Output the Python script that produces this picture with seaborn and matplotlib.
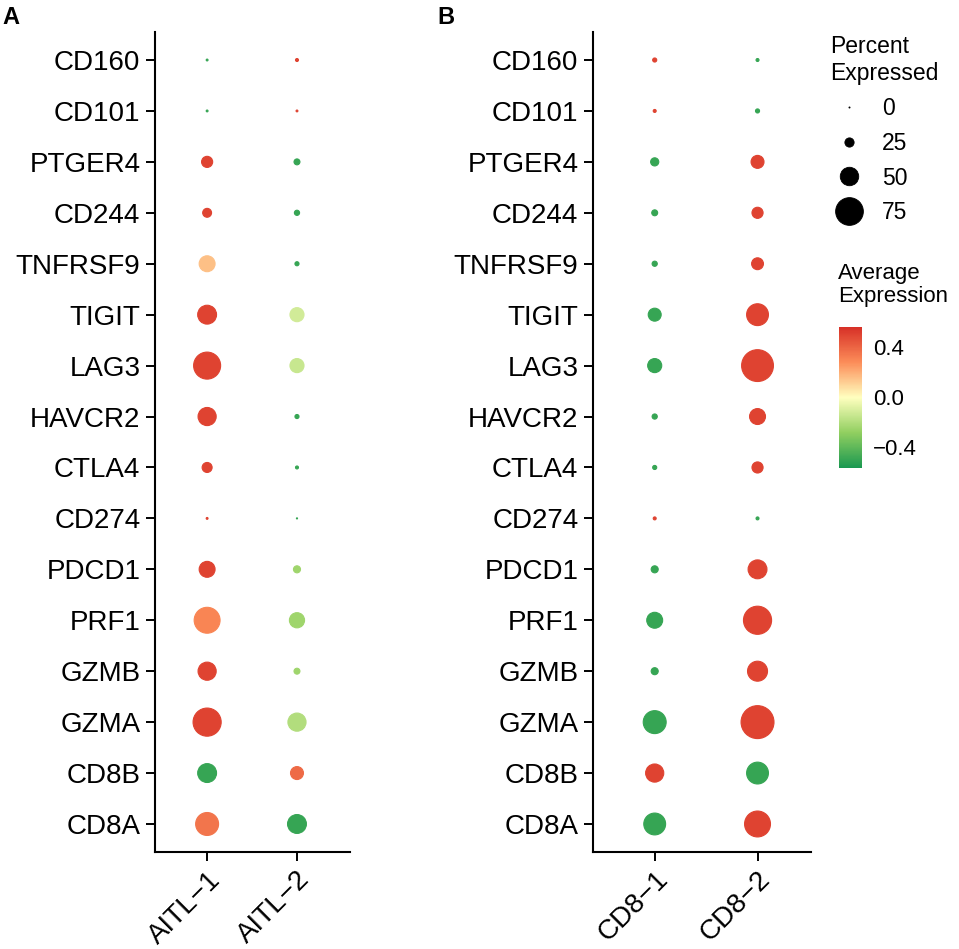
import numpy as np
import pandas as pd
import seaborn as sns
import matplotlib.pyplot as plt
from matplotlib.colors import LinearSegmentedColormap, Normalize
from matplotlib.cm import ScalarMappable
from matplotlib.lines import Line2D

# genes, top to bottom
genes = ["CD160", "CD101", "PTGER4", "CD244", "TNFRSF9", "TIGIT", "LAG3", "HAVCR2",
         "CTLA4", "CD274", "PDCD1", "PRF1", "GZMB", "GZMA", "CD8B", "CD8A"]

# panel A: AITL samples
groups_a = ["AITL\u22121", "AITL\u22122"]
pct_a1 = [5, 5, 30, 24, 43, 51, 73, 49, 27, 5, 43, 70, 49, 76, 51, 62]
pct_a2 = [8, 5, 16, 14, 11, 38, 38, 11, 8, 3, 19, 41, 16, 49, 35, 51]
avg_a1 = [-0.5, -0.5, 0.5, 0.5, 0.15, 0.5, 0.5, 0.5, 0.5, 0.5, 0.5, 0.3, 0.5, 0.5, -0.5, 0.35]
avg_a2 = [0.5, 0.5, -0.5, -0.5, -0.5, -0.12, -0.15, -0.5, -0.5, -0.5, -0.25, -0.25, -0.25, -0.2, 0.38, -0.5]

# panel B: CD8 samples
groups_b = ["CD8\u22121", "CD8\u22122"]
pct_b1 = [11, 8, 22, 16, 14, 35, 38, 14, 11, 8, 19, 43, 19, 62, 49, 59]
pct_b2 = [8, 11, 35, 30, 32, 59, 86, 43, 30, 8, 51, 76, 54, 89, 59, 70]
avg_b1 = [0.5, 0.5, -0.5, -0.5, -0.5, -0.5, -0.5, -0.5, -0.5, 0.5, -0.5, -0.5, -0.5, -0.5, 0.5, -0.5]
avg_b2 = [-0.5, -0.5, 0.5, 0.5, 0.5, 0.5, 0.5, 0.5, 0.5, -0.5, 0.5, 0.5, 0.5, 0.5, -0.5, 0.5]

legend_pcts = [0, 25, 50, 75]
cbar_ticks = [-0.4, 0.0, 0.4]

sns.set_theme(style="white")
plt.rcParams['font.family'] = ['Liberation Sans', 'DejaVu Sans']
plt.rcParams['text.color'] = 'black'

cmap = LinearSegmentedColormap.from_list(
    "rdylgn5", ["#1A9850", "#91CF60", "#FFFFBF", "#FC8D59", "#D73027"])
vmin, vmax = -0.57, 0.56

W, H = 959, 949
fig = plt.figure(figsize=(W / 100, H / 100), dpi=100)

# diameter grows linearly with percent (like scale_radius)
px_per_pct = 0.37
s100 = (px_per_pct * 100 * 0.72) ** 2


def make_df(groups, p1, p2, a1, a2):
    rows = []
    for g, pl, al in [(groups[0], p1, a1), (groups[1], p2, a2)]:
        for gene, p, a in zip(genes, pl, al):
            rows.append({"group": g, "gene": gene, "pct": p, "avg": a})
    df = pd.DataFrame(rows)
    df["pct_sq"] = df["pct"] ** 2
    return df


def dot_panel(rect, df, groups, xlim):
    ax = fig.add_axes(rect)
    sns.scatterplot(data=df, x="group", y="gene", hue="avg", size="pct_sq",
                    palette=cmap, hue_norm=(vmin, vmax),
                    sizes=(0, s100), size_norm=(0, 10000),
                    linewidth=0.8, edgecolor="face", legend=False, ax=ax)
    ax.set_xlim(*xlim)
    ax.set_ylim(len(genes) - 0.45, -0.55)
    ax.set_xlabel("")
    ax.set_ylabel("")
    sns.despine(ax=ax)
    for side in ["left", "bottom"]:
        ax.spines[side].set_linewidth(1.5)
        ax.spines[side].set_color("black")
    ax.tick_params(axis="both", length=6.5, width=1.4, color="black",
                   labelsize=20, labelcolor="black", pad=4, left=True, bottom=True)
    plt.setp(ax.get_xticklabels(), rotation=45, ha="right", va="top",
             rotation_mode="anchor")
    return ax


df_a = make_df(groups_a, pct_a1, pct_a2, avg_a1, avg_a2)
df_b = make_df(groups_b, pct_b1, pct_b2, avg_b1, avg_b2)

dot_panel([155 / W, 1 - 852 / H, 195 / W, 820 / H], df_a, groups_a, (-0.58, 1.59))
dot_panel([593 / W, 1 - 852 / H, 218 / W, 820 / H], df_b, groups_b, (-0.6, 1.52))

fig.text(2 / W, 1 - 6 / H, "A", fontsize=17, fontweight="bold", va="top")
fig.text(437 / W, 1 - 6 / H, "B", fontsize=17, fontweight="bold", va="top")

# size legend
handles = [Line2D([], [], marker="o", linestyle="", color="black",
                  markeredgewidth=0.6,
                  markersize=max(px_per_pct * p * 0.72, 0.8))
           for p in legend_pcts]
leg = fig.legend(handles, [str(p) for p in legend_pcts],
                 title="Percent\nExpressed", loc="upper left",
                 bbox_to_anchor=(821 / W, 1 - 26 / H), frameon=False,
                 borderaxespad=0,
                 fontsize=16.5, title_fontsize=16.5, labelspacing=0.52,
                 handlelength=1.66, handletextpad=0.61, alignment="left")

# colour bar
cax = fig.add_axes([839 / W, 1 - 468 / H, 23 / W, 141 / H])
cb = fig.colorbar(ScalarMappable(norm=Normalize(vmin, vmax), cmap=cmap), cax=cax,
                  ticks=cbar_ticks)
cb.outline.set_visible(False)
cb.ax.set_yticklabels([f"{t:.1f}".replace("-", "\u2212") for t in cbar_ticks])
cb.ax.tick_params(direction="in", length=4, width=1, color="white",
                  labelsize=16, labelcolor="black", pad=8, left=True, right=True)
fig.text(838 / W, 1 - 263 / H, "Average\nExpression", fontsize=16, va="top",
         ha="left", linespacing=1.15)

fig.savefig("out.png", dpi=100)
